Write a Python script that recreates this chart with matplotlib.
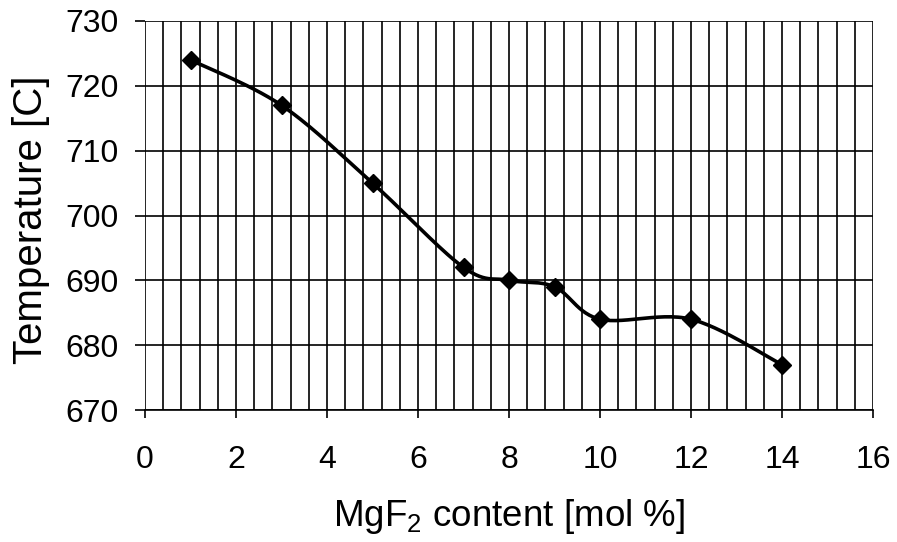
"""MgF2 content vs temperature, Excel-style smoothed line."""

import matplotlib
matplotlib.use("Agg")
import matplotlib.pyplot as plt
import numpy as np

plt.rcParams.update({
    "font.family": ["Liberation Sans", "DejaVu Sans"],
    "font.size": 23,
    "mathtext.fontset": "custom",
    "mathtext.rm": "Liberation Sans",
})

mgf2 = [1, 3, 5, 7, 8, 9, 10, 12, 14]
temperature = [724, 717, 705, 692, 690, 689, 684, 684, 677]


def smooth(x, y, n=30):
    # Catmull-Rom through the points, like Excel's "smoothed line"
    x = np.asarray(x, float)
    y = np.asarray(y, float)
    px = np.concatenate([[x[0]], x, [x[-1]]])
    py = np.concatenate([[y[0]], y, [y[-1]]])
    xs, ys = [], []
    t = np.linspace(0, 1, n)
    for i in range(1, len(px) - 2):
        p0, p1, p2, p3 = [np.array([px[j], py[j]]) for j in (i - 1, i, i + 1, i + 2)]
        c1 = p1 + (p2 - p0) / 6
        c2 = p2 - (p3 - p1) / 6
        b = ((1 - t) ** 3)[:, None] * p1 + (3 * (1 - t) ** 2 * t)[:, None] * c1 \
            + (3 * (1 - t) * t ** 2)[:, None] * c2 + (t ** 3)[:, None] * p2
        xs.extend(b[:, 0])
        ys.extend(b[:, 1])
    return xs, ys


fig = plt.figure(figsize=(8.97, 5.42), dpi=100)
ax = fig.add_axes([145 / 897, 1 - 410 / 542, 728 / 897, 389 / 542])

for gx in np.arange(0, 16.01, 0.4):
    ax.axvline(gx, color="black", linewidth=1.2, zorder=1)
for gy in range(670, 731, 10):
    ax.axhline(gy, color="black", linewidth=1.2, zorder=1)

sx, sy = smooth(mgf2, temperature)
ax.plot(sx, sy, color="black", linewidth=2.6, zorder=3)
ax.plot(mgf2, temperature, linestyle="none", marker="D", markersize=9.5,
        color="black", zorder=4)

ax.set_xlim(0, 16)
ax.set_ylim(670, 730)
ax.set_xticks(range(0, 17, 2))
ax.set_yticks(range(670, 731, 10))
ax.tick_params(axis="x", direction="out", length=6, width=1.2, pad=19, labelsize=23)
ax.tick_params(axis="y", direction="out", length=7, width=1.2, pad=12, labelsize=23)
for side in ("top", "right", "left"):
    ax.spines[side].set_visible(False)
ax.spines["bottom"].set_linewidth(1.2)

ax.set_xlabel(r"MgF$_2$ content [mol %]", fontsize=26.5, labelpad=16)
ax.set_ylabel("Temperature [C]", fontsize=29)
ax.yaxis.set_label_coords(-0.13, 0.49)

fig.savefig("out.png", dpi=100)
